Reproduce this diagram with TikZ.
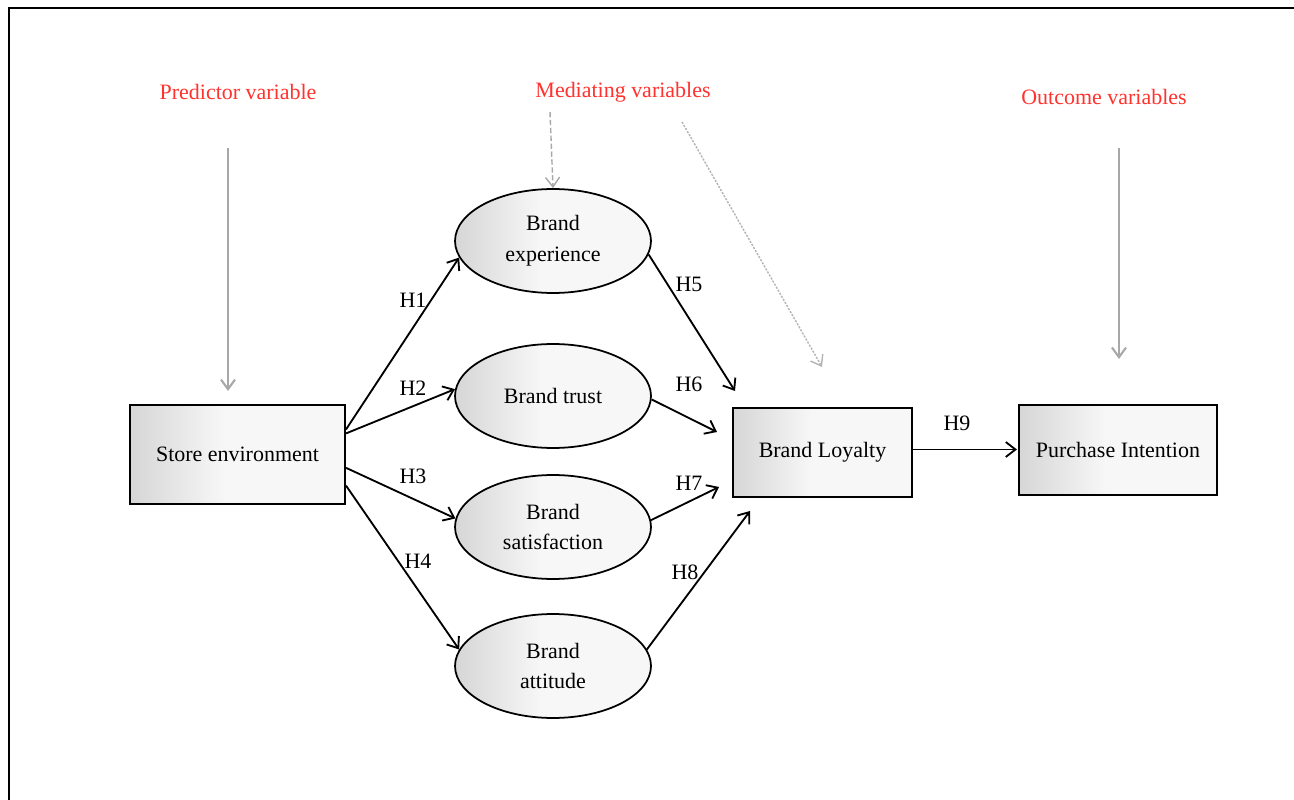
\documentclass[tikz,border=0pt]{standalone}
\usepackage{fontspec}
\setmainfont{Liberation Serif}
\usetikzlibrary{arrows.meta,shapes.geometric,calc}

\definecolor{shadeL}{HTML}{D6D6D6}
\definecolor{shadeR}{HTML}{F7F7F7}
\definecolor{headred}{RGB}{255,50,45}
\definecolor{pointgray}{HTML}{A8A8A8}
\definecolor{faintgray}{HTML}{B4B4B4}

% soft left-to-right fill used by every construct
\pgfdeclarehorizontalshading{softgray}{100bp}{%
  color(0bp)=(shadeL); color(25bp)=(shadeL); color(47bp)=(shadeR); color(100bp)=(shadeR)}

\tikzset{
  txt/.style={font=\fontsize{12.5}{17.5}\selectfont},
  varbox/.style={txt, draw=black, line width=1.2pt, shading=softgray,
    rectangle, inner sep=0pt, align=center},
  construct/.style={txt, draw=black, line width=1pt, shading=softgray,
    ellipse, inner sep=0pt, minimum width=3.92cm, minimum height=2.08cm, align=center},
  heading/.style={txt, text=headred},
  hyp/.style={txt, inner sep=0pt},
  path/.style={draw=black, line width=1.05pt, -{Straight Barb[length=5.5pt,width=8.5pt]}},
  pointer/.style={draw=pointgray, line width=1.2pt, -{Straight Barb[length=5.5pt,width=8pt]}},
}

\begin{document}
\begin{tikzpicture}[x=0.02cm, y=-0.02cm]
  \useasboundingbox (0,0) rectangle (1294,800);

  % page frame (left and top rules)
  \draw[line width=1.1pt] (9,800) -- (9,8) -- (1294,8);

  % column headings
  \node[heading] (pv) at (238,92) {Predictor variable};
  \node[heading] (mv) at (623,92) {Mediating variables};
  \node[heading] (ov) at (1104,97) {Outcome variables};

  % constructs
  \node[varbox, minimum width=4.3cm, minimum height=1.98cm] (se) at (237.5,454.5) {Store environment};
  \node[construct] (be) at (553,241) {Brand\\experience};
  \node[construct] (bt) at (553,396) {Brand trust};
  \node[construct] (bs) at (553,527) {Brand\\satisfaction};
  \node[construct] (ba) at (553,666) {Brand\\attitude};
  \node[varbox, minimum width=3.58cm, minimum height=1.78cm] (bl) at (822.5,452.5) {Brand Loyalty};
  \node[varbox, minimum width=3.96cm, minimum height=1.8cm] (pi) at (1118,450) {Purchase Intention};

  % free ends of the pointers and of the paths into Brand Loyalty
  \coordinate (p1s) at (228,148);  \coordinate (p1e) at (228,391);
  \coordinate (p2s) at (550,112);
  \coordinate (p3s) at (682,122);  \coordinate (p3e) at (822,367);
  \coordinate (p4s) at (1119,148); \coordinate (p4e) at (1119,359);
  \coordinate (t5) at (735,391);
  \coordinate (t6) at (717,432);
  \coordinate (t7) at (719,487);
  \coordinate (t8) at (750,511);

  % heading pointers
  \draw[pointer] (p1s) -- (p1e);
  \draw[pointer, line width=0.8pt, dash pattern=on 3pt off 1.5pt] (p2s) -- (be.north);
  \draw[pointer, draw=faintgray, line width=0.8pt, dash pattern=on 1.2pt off 0.8pt] (p3s) -- (p3e);
  \draw[pointer] (p4s) -- (p4e);

  % hypothesised paths
  \draw[path] (se.13.8)  -- (be.190);
  \draw[path] (se.11.8)  -- (bt.176.5);
  \draw[path] (se.-7.2)  -- (bs.175);
  \draw[path] (se.-16.8) -- (ba.170);
  \draw[path] (be.-8)   -- (t5);
  \draw[path] (bt.-2)   -- (t6);
  \draw[path] (bs.4)    -- (t7);
  \draw[path] (ba.10.4) -- (t8);
  \draw[path] ($(bl.east)+(0,-3)$) -- ($(bl.east -| pi.west)+(-1,-3)$);

  % path labels
  \node[hyp] (h1) at (413,300) {H1};
  \node[hyp] (h2) at (413,388) {H2};
  \node[hyp] (h3) at (413,476) {H3};
  \node[hyp] (h4) at (418,561) {H4};
  \node[hyp] (h5) at (689,284) {H5};
  \node[hyp] (h6) at (689,384) {H6};
  \node[hyp] (h7) at (689,483) {H7};
  \node[hyp] (h8) at (685,572) {H8};
  \node[hyp] (h9) at (957,423) {H9};
\end{tikzpicture}
\end{document}
